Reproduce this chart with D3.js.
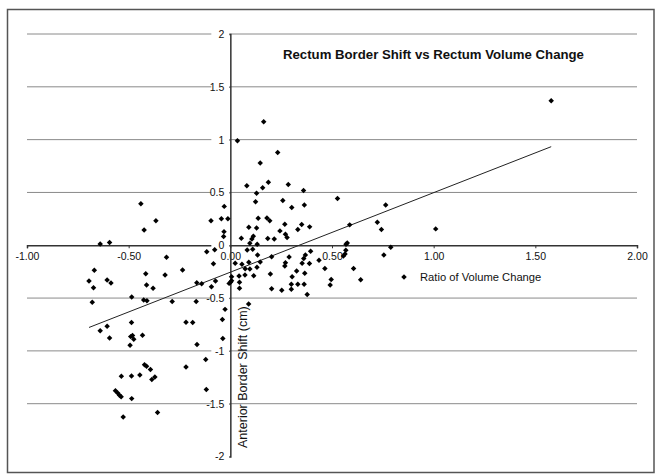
<!DOCTYPE html>
<html>
<head>
<meta charset="utf-8">
<script src="https://cdn.jsdelivr.net/npm/d3@7"></script>
<style>
  body { margin: 0; background: #fff; }
  text { font-family: "Liberation Sans", Arial, sans-serif; }
</style>
</head>
<body>
<script>
const width = 657;
const height = 474;

// ratio of volume change (x) and anterior border shift in cm (y)
const volumeRatio = [
  0.164, 0.035, 0.233, 0.147, 0.081, 0.187, 0.159, 0.129, 0.285, 0.360,
  0.124, 0.258, 0.302, 0.364, -0.030, -0.095, -0.044, -0.012, 0.137, 0.180,
  0.194, 0.091, 0.129, 0.268, 0.244, 0.271, 0.279, 0.332, 0.351, 0.390,
  -0.031, -0.033, 0.054, 0.113, 0.106, 0.184, 0.216, 0.527, 0.764, 0.587,
  0.723, 0.743, 1.010, 1.578, -0.440, -0.366, -0.424, -0.640, -0.594, 0.569,
  0.575, 0.789, 0.132, 0.096, -0.116, -0.077, 0.083, 0.110, -0.314, -0.083,
  0.024, 0.057, 0.091, 0.134, 0.147, 0.073, 0.096, 0.131, 0.115, 0.072,
  0.043, 0.203, 0.289, 0.271, 0.268, 0.369, 0.361, 0.395, 0.353, 0.389,
  0.326, 0.197, 0.304, 0.366, 0.006, 0.006, 0.001, -0.006, 0.045, 0.045,
  -0.073, -0.165, -0.141, -0.093, -0.235, 0.203, 0.253, 0.300, 0.332, 0.363,
  0.300, 0.378, 0.436, 0.465, 0.496, 0.491, 0.556, 0.564, 0.568, 0.606,
  0.641, 0.755, -0.286, -0.168, 0.090, -0.026, -0.039, -0.218, -0.185, -0.037,
  -0.164, -0.321, -0.416, -0.669, -0.695, -0.606, -0.587, -0.673, -0.412, -0.380,
  -0.679, -0.485, -0.426, -0.410, -0.486, -0.640, -0.606, -0.594, -0.490, -0.481,
  -0.475, -0.493, -0.432, -0.422, -0.412, -0.393, -0.536, -0.486, -0.445, -0.371,
  -0.386, -0.565, -0.554, -0.545, -0.537, -0.485, -0.527, -0.358, -0.218, -0.121,
  -0.118
];
const borderShift = [
  1.170, 0.990, 0.879, 0.778, 0.563, 0.596, 0.544, 0.493, 0.575, 0.518,
  0.411, 0.423, 0.357, 0.382, 0.368, 0.231, 0.250, 0.250, 0.256, 0.259,
  0.231, 0.171, 0.164, 0.199, 0.136, 0.105, 0.074, 0.150, 0.197, 0.174,
  0.129, 0.083, 0.066, 0.086, 0.060, 0.063, 0.060, 0.442, 0.380, 0.193,
  0.218, 0.150, 0.155, 1.369, 0.392, 0.231, 0.145, 0.012, 0.025, 0.009,
  0.022, -0.019, 0.009, 0.019, -0.061, -0.042, -0.045, -0.038, -0.114, -0.175,
  -0.171, -0.180, -0.161, -0.092, -0.158, -0.222, -0.225, -0.209, -0.288, -0.282,
  -0.291, -0.108, -0.111, -0.165, -0.196, -0.092, -0.125, -0.056, -0.171, -0.173,
  -0.244, -0.272, -0.298, -0.266, -0.298, -0.336, -0.351, -0.361, -0.351, -0.408,
  -0.339, -0.355, -0.364, -0.393, -0.234, -0.412, -0.427, -0.370, -0.370, -0.369,
  -0.417, -0.467, -0.141, -0.220, -0.324, -0.377, -0.102, -0.083, -0.047, -0.220,
  -0.326, -0.092, -0.533, -0.533, -0.557, -0.607, -0.702, -0.728, -0.731, -0.882,
  -0.939, -0.282, -0.269, -0.237, -0.339, -0.329, -0.358, -0.402, -0.377, -0.408,
  -0.540, -0.491, -0.519, -0.526, -0.731, -0.810, -0.766, -0.878, -0.865, -0.854,
  -0.891, -0.946, -0.851, -1.131, -1.145, -1.176, -1.240, -1.237, -1.229, -1.247,
  -1.271, -1.378, -1.398, -1.420, -1.435, -1.452, -1.626, -1.584, -1.152, -1.082,
  -1.366
];

// linear trendline
const trendSlope = 0.753;
const trendIntercept = -0.255;

const xTicks = [-1, -0.5, 0, 0.5, 1, 1.5, 2];
const xTickLabels = ["-1.00", "-0.50", "0.00", "0.50", "1.00", "1.50", "2.00"];
const yTicks = [-2, -1.5, -1, -0.5, 0, 0.5, 1, 1.5, 2];
const yTickLabels = ["-2", "-1.5", "-1", "-0.5", "0", "0.5", "1", "1.5", "2"];

const title = "Rectum Border Shift vs Rectum Volume Change";
const seriesName = "Ratio of Volume Change";
const yTitle = "Anterior Border Shift (cm)";

const points = volumeRatio.map((v, i) => ({x: v, y: borderShift[i]}));

const svg = d3.select("body").append("svg")
  .attr("width", width)
  .attr("height", height);

const x = d3.scaleLinear().domain([-1, 2]).range([27, 637]);
const y = d3.scaleLinear().domain([-2, 2]).range([456.5, 34]);

// outer frame
svg.append("rect")
  .attr("x", 7.5).attr("y", 9.5)
  .attr("width", 646.5).attr("height", 463)
  .attr("fill", "#fff")
  .attr("stroke", "#555")
  .attr("stroke-width", 1.5);

// horizontal gridlines
svg.append("g")
  .selectAll("line")
  .data(yTicks.filter(d => d !== 0 && d !== -2))
  .join("line")
    .attr("x1", x(-1)).attr("x2", x(2))
    .attr("y1", d => y(d)).attr("y2", d => y(d))
    .attr("stroke", "#8a8a8a")
    .attr("stroke-width", 1);

// x axis through y = 0
const xAxis = d3.axisBottom(x)
  .tickValues(xTicks)
  .tickFormat((d, i) => xTickLabels[i])
  .tickSize(3)
  .tickPadding(4);
const gx = svg.append("g")
  .attr("transform", `translate(0,${y(0)})`)
  .call(xAxis);
gx.select(".domain").attr("stroke", "#333").attr("stroke-width", 1.5);
gx.selectAll(".tick line").attr("stroke", "#333");
gx.selectAll(".tick text")
  .attr("font-size", 10.5)
  .attr("font-family", "Liberation Sans, Arial, sans-serif")
  .attr("fill", "#111");

// y axis through x = 0
const yAxis = d3.axisLeft(y)
  .tickValues(yTicks)
  .tickFormat((d, i) => yTickLabels[i])
  .tickSize(3)
  .tickPadding(3);
const gy = svg.append("g")
  .attr("transform", `translate(${x(0)},0)`)
  .call(yAxis);
gy.selectAll(".tick").insert("rect", "text")
  .attr("x", -19).attr("y", -5)
  .attr("width", 18).attr("height", 10)
  .attr("fill", "#fff");
gy.select(".domain").attr("stroke", "#333").attr("stroke-width", 1.5);
gy.selectAll(".tick line").attr("stroke", "#333");
gy.selectAll(".tick text")
  .attr("font-size", 10.5)
  .attr("font-family", "Liberation Sans, Arial, sans-serif")
  .attr("fill", "#111");

// axis title
svg.append("text")
  .attr("transform", `translate(${x(0) + 17},448) rotate(-90)`)
  .attr("font-size", 12.5)
  .attr("fill", "#111")
  .text(yTitle);

// trendline
const xs = d3.extent(volumeRatio);
svg.append("line")
  .attr("x1", x(xs[0])).attr("y1", y(trendSlope * xs[0] + trendIntercept))
  .attr("x2", x(xs[1])).attr("y2", y(trendSlope * xs[1] + trendIntercept))
  .attr("stroke", "#222")
  .attr("stroke-width", 1);

// data points
const diamond = d3.symbol(d3.symbolSquare, 15);
svg.append("g")
  .selectAll("path")
  .data(points)
  .join("path")
    .attr("d", diamond)
    .attr("transform", d => `translate(${x(d.x)},${y(d.y)}) rotate(45)`)
    .attr("fill", "#000");

// title
svg.append("text")
  .attr("x", 283).attr("y", 59)
  .attr("font-size", 13.2)
  .attr("font-weight", "bold")
  .attr("fill", "#111")
  .text(title);

// legend
svg.append("path")
  .attr("d", diamond)
  .attr("transform", "translate(404,277) rotate(45)")
  .attr("fill", "#000");
svg.append("text")
  .attr("x", 420).attr("y", 281)
  .attr("font-size", 11.2)
  .attr("fill", "#111")
  .text(seriesName);
</script>
</body>
</html>
